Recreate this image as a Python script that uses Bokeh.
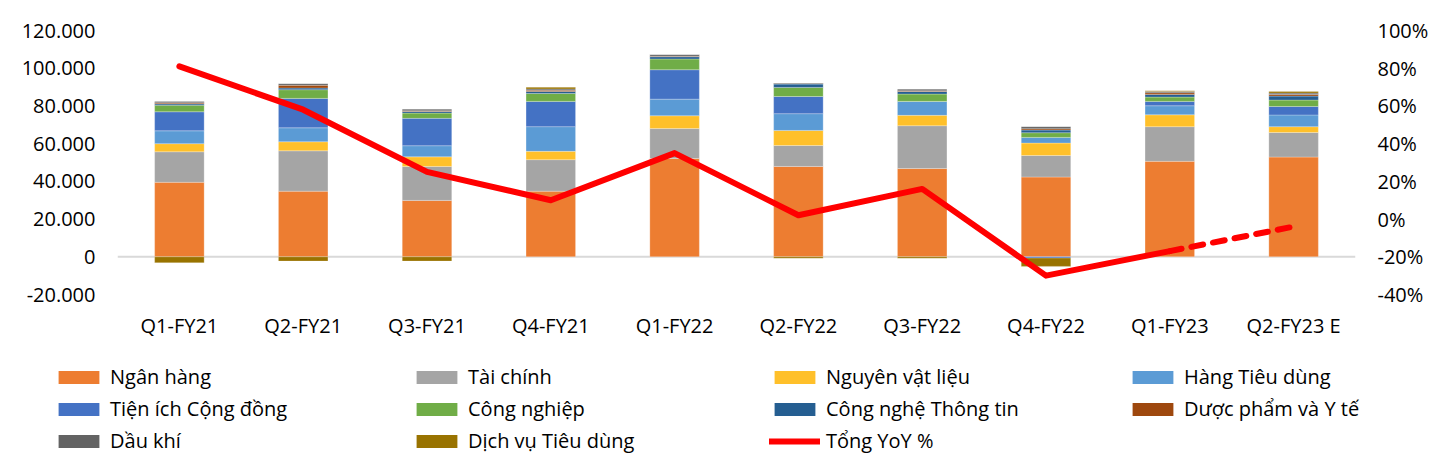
from bokeh.plotting import figure
from bokeh.layouts import column
from bokeh.models import (ColumnDataSource, FactorRange, Range1d, LinearAxis,
                          FixedTicker, Span, Legend, LegendItem)
from bokeh.embed import file_html
from bokeh.resources import INLINE

# ---------------- data ----------------
categories = ["Q1-FY21", "Q2-FY21", "Q3-FY21", "Q4-FY21", "Q1-FY22",
              "Q2-FY22", "Q3-FY22", "Q4-FY22", "Q1-FY23", "Q2-FY23 E"]

sectors = ["Ngân hàng", "Tài chính", "Nguyên vật liệu", "Hàng Tiêu dùng",
           "Tiện ích Cộng đồng", "Công nghiệp", "Công nghệ Thông tin",
           "Dược phẩm và Y tế", "Dầu khí", "Dịch vụ Tiêu dùng"]

ngan_hang = [39500, 34800, 29900, 34800, 52100, 47900, 46800, 42300, 50600, 52900]
tai_chinh = [16200, 21400, 18000, 16700, 15900, 11100, 22700, 11400, 18400, 13000]
nguyen_vat_lieu = [4300, 4800, 5100, 4400, 6800, 8000, 5500, 6600, 6300, 3100]
hang_tieu_dung = [6800, 7400, 5900, 13100, 8800, 8900, 7400, 3000, 4800, 6200]
tien_ich = [10100, 15600, 14500, 13400, 15600, 9100, 0, -700, 2300, 4500]
cong_nghiep = [3500, 4600, 2800, 4200, 5700, 4800, 3900, 2500, 2300, 3400]
cong_nghe = [700, 900, 900, 1100, 1200, 1800, 1400, 1400, 1400, 2100]
duoc_pham = [600, 1400, 300, 600, 300, 200, 300, 700, 900, 900]
dau_khi = [700, 900, 900, 700, 900, 300, 900, 1100, 700, 700]
dich_vu = [-3200, -2300, -2300, 900, 0, -800, -800, -4400, 400, 900]

yoy = [81, 58, 25, 10, 35, 2, 16, -30, -17, -4]

left_ticks = [-20000, 0, 20000, 40000, 60000, 80000, 100000, 120000]
left_labels = ["-20.000", "0", "20.000", "40.000", "60.000", "80.000", "100.000", "120.000"]
right_ticks = [-40, -20, 0, 20, 40, 60, 80, 100]
right_labels = ["-40%", "-20%", "0%", "20%", "40%", "60%", "80%", "100%"]

series = [ngan_hang, tai_chinh, nguyen_vat_lieu, hang_tieu_dung, tien_ich,
          cong_nghiep, cong_nghe, duoc_pham, dau_khi, dich_vu]
colors = ["#ED7D31", "#A5A5A5", "#FFC02A", "#5B9BD5", "#4472C4",
          "#70AD47", "#255E91", "#9E480E", "#636363", "#997300"]

FONT = "Open Sans"

# ---------------- main chart ----------------
p = figure(x_range=FactorRange(*categories, range_padding=0),
           y_range=Range1d(-20000, 120000),
           width=1454, height=350, output_backend="svg", toolbar_location=None,
           min_border_left=117, min_border_right=99, min_border_top=30,
           min_border_bottom=56)
p.frame_align = False
p.outline_line_color = None
p.grid.visible = False
p.background_fill_color = "white"
p.border_fill_color = "white"

p.extra_y_ranges = {"pct": Range1d(-40, 100)}

p.add_layout(Span(location=0, dimension="width", line_color="#D9D9D9",
                  line_width=2, level="underlay"))

n = len(categories)
pos = [0.0] * n
neg = [0.0] * n
for name, vals, col in zip(sectors, series, colors):
    bottoms, tops = [], []
    for i, v in enumerate(vals):
        if v >= 0:
            bottoms.append(pos[i]); tops.append(pos[i] + v); pos[i] += v
        else:
            bottoms.append(neg[i] + v); tops.append(neg[i]); neg[i] += v
    src = ColumnDataSource(dict(x=categories, top=tops, bottom=bottoms))
    p.vbar(x="x", top="top", bottom="bottom", width=0.4, source=src,
           fill_color=col, line_color="white", line_width=0.5, line_alpha=0.5)

lsrc = ColumnDataSource(dict(x=categories[:9], y=yoy[:9]))
p.line(x="x", y="y", source=lsrc, y_range_name="pct", line_color="#FF0000",
       line_width=6, line_cap="round", line_join="round")
dsrc = ColumnDataSource(dict(x=categories[8:], y=yoy[8:]))
p.line(x="x", y="y", source=dsrc, y_range_name="pct", line_color="#FF0000",
       line_width=6, line_cap="round", line_dash="12 10")

# axes
p.yaxis.ticker = FixedTicker(ticks=left_ticks)
p.yaxis.major_label_overrides = dict(zip(left_ticks, left_labels))
right = LinearAxis(y_range_name="pct", ticker=FixedTicker(ticks=right_ticks))
right.major_label_overrides = dict(zip(right_ticks, right_labels))
p.add_layout(right, "right")

for ax in [p.xaxis[0], p.yaxis[0], right]:
    ax.axis_line_color = None
    ax.major_tick_line_color = None
    ax.minor_tick_line_color = None
    ax.major_tick_out = 0
    ax.major_tick_in = 0
    ax.minor_tick_out = 0
    ax.major_label_text_font = FONT
    ax.major_label_text_font_size = "20px"
    ax.major_label_text_color = "#000000"
p.yaxis[0].major_label_standoff = 22
right.major_label_standoff = 22
p.xaxis[0].major_label_standoff = 17

# ---------------- legend panel ----------------
lg = figure(width=1454, height=120, x_range=Range1d(0, 1), y_range=Range1d(0, 1),
            output_backend="svg", toolbar_location=None, min_border=0,
            x_axis_location=None, y_axis_location=None)
lg.frame_align = False
lg.outline_line_color = None
lg.grid.visible = False

items = []
for name, col in zip(sectors, colors):
    # zero-size key glyph: only used to draw the legend swatch
    r = lg.vbar(x=[0], top=[0], bottom=[0], width=0, fill_color=col,
                line_color=None)
    items.append(LegendItem(label=name, renderers=[r]))
rl = lg.line(x=[0], y=[0], line_color="#FF0000", line_width=6, line_cap="round")
items.append(LegendItem(label="Tổng YoY %", renderers=[rl]))

legend = Legend(items=items, location=(53, 16), orientation="horizontal",
                ncols=4, glyph_width=51, glyph_height=16, label_standoff=6,
                label_width=296, spacing=5, padding=0, margin=0,
                border_line_color=None, background_fill_alpha=0,
                label_text_font=FONT, label_text_font_size="20px",
                label_text_color="#000000")
lg.add_layout(legend, "center")

layout = column(p, lg, spacing=0)
open("out.html", "w").write(file_html(layout, INLINE))
